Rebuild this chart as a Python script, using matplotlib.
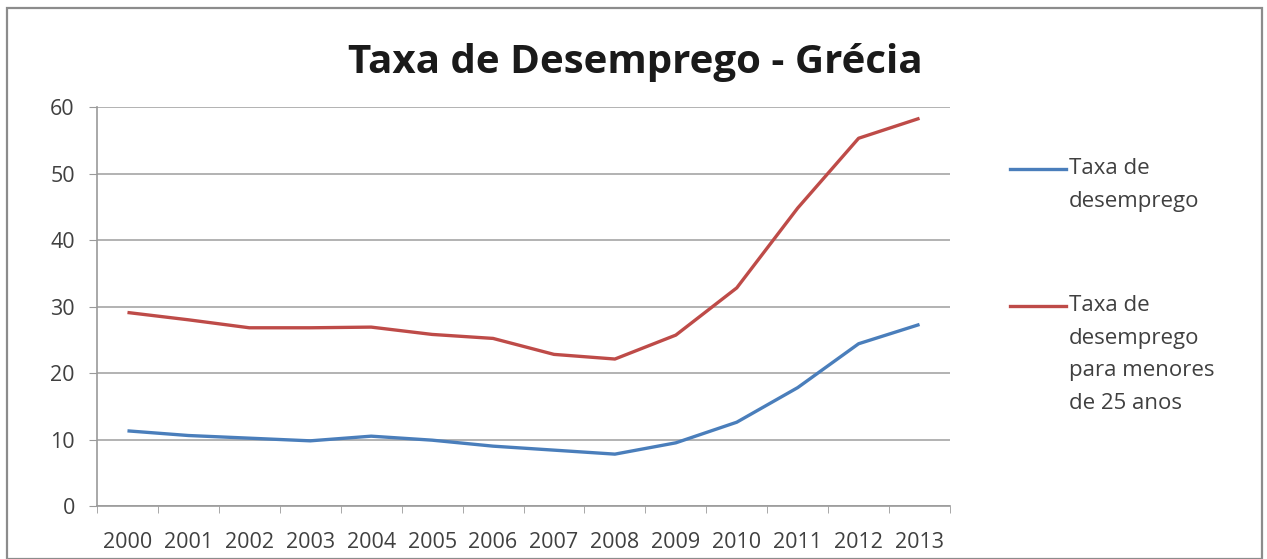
import matplotlib.pyplot as plt
from matplotlib.lines import Line2D
from matplotlib.patches import Rectangle

anos = ['2000', '2001', '2002', '2003', '2004', '2005', '2006',
        '2007', '2008', '2009', '2010', '2011', '2012', '2013']
taxa_total = [11.3, 10.6, 10.2, 9.8, 10.5, 9.9, 9.0,
              8.4, 7.8, 9.5, 12.6, 17.8, 24.4, 27.3]
taxa_jovens = [29.1, 28.0, 26.8, 26.8, 26.9, 25.8, 25.2,
               22.8, 22.1, 25.7, 32.8, 44.8, 55.3, 58.3]
legendas = ['Taxa de\ndesemprego',
            'Taxa de\ndesemprego\npara menores\nde 25 anos']
yticks = [0, 10, 20, 30, 40, 50, 60]

plt.rcParams['font.family'] = ['Open Sans', 'DejaVu Sans']
cor_texto = '#404040'
cor_azul = '#4A7EBB'
cor_vermelho = '#BE4B48'

fig = plt.figure(figsize=(12.67, 5.59), dpi=100)
W, H = 1267, 559

# moldura do gráfico
fig.patches.append(Rectangle((7 / W, 0), (1262 - 7) / W, 1 - 8 / H,
                             transform=fig.transFigure, fill=False,
                             edgecolor='#8c8c8c', linewidth=1.6))

ax = fig.add_axes([97 / W, 1 - 506 / H, (950 - 97) / W, (506 - 107) / H])
x = list(range(len(anos)))
ax.plot(x, taxa_total, color=cor_azul, linewidth=2.4, solid_capstyle='butt')
ax.plot(x, taxa_jovens, color=cor_vermelho, linewidth=2.4, solid_capstyle='butt')

ax.set_xlim(-0.5, len(anos) - 0.5)
ax.set_ylim(0, 60)
ax.set_yticks(yticks)
ax.set_xticks(x)
ax.set_xticklabels(anos)
ax.set_xticks([i - 0.5 for i in range(len(anos) + 1)], minor=True)
ax.tick_params(axis='x', which='major', length=0, pad=19, labelsize=15.5, labelcolor=cor_texto)
ax.tick_params(axis='x', which='minor', length=5, color='#9a9a9a', direction='out')
ax.tick_params(axis='y', length=6, color='#9a9a9a', pad=10, labelsize=15.5, labelcolor=cor_texto)
ax.grid(axis='y', color='#a6a6a6', linewidth=1.2)
ax.set_axisbelow(True)
for lado in ['top', 'right']:
    ax.spines[lado].set_visible(False)
for lado in ['left', 'bottom']:
    ax.spines[lado].set_color('#9a9a9a')
    ax.spines[lado].set_linewidth(1.2)

fig.text(635 / W, 1 - 62 / H, 'Taxa de Desemprego - Grécia', ha='center', va='center',
         fontsize=29, fontweight='bold', color='#1a1a1a')

# legenda manual
for cor, texto, ypx in [(cor_azul, legendas[0], 169), (cor_vermelho, legendas[1], 306)]:
    fig.add_artist(Line2D([1010 / W, 1066 / W], [1 - ypx / H, 1 - ypx / H],
                          transform=fig.transFigure, color=cor, linewidth=2.4))
    fig.text(1069 / W, 1 - (ypx - 11) / H, texto, ha='left', va='top',
             fontsize=16, color=cor_texto, linespacing=1.72)

fig.savefig('out.png', dpi=100)
